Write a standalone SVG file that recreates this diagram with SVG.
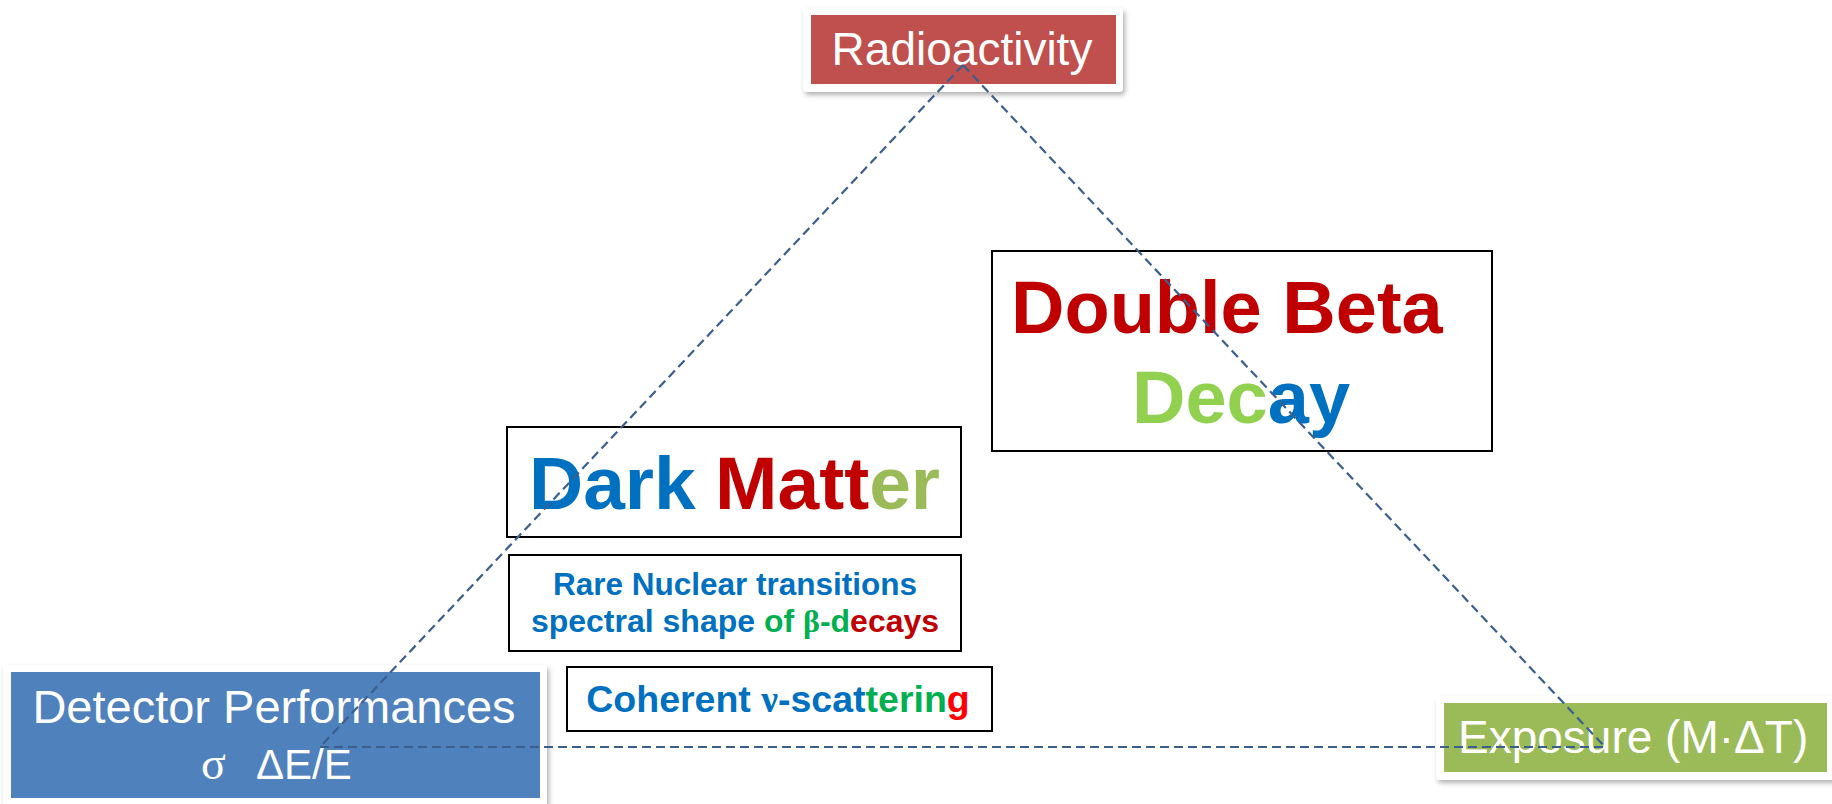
<svg xmlns="http://www.w3.org/2000/svg" width="1832" height="804" viewBox="0 0 1832 804">
  <defs>
    <filter id="shadow" x="-10%" y="-20%" width="120%" height="150%">
      <feDropShadow dx="2" dy="3" stdDeviation="2.5" flood-color="#000" flood-opacity="0.3"/>
    </filter>
  </defs>
  <style>
    .card { fill: #ffffff; filter: url(#shadow); }
    .label { font-family: "Liberation Sans", Arial, sans-serif; fill: #ffffff; }
    .frame { fill: #ffffff; stroke: #000000; stroke-width: 2; }
    .bold { font-family: "Liberation Sans", Arial, sans-serif; font-weight: bold; }
    .greek { font-family: "Liberation Serif", "Times New Roman", serif; }
    .blue { fill: #0070C0; }
    .red { fill: #C00000; }
    .olive { fill: #9BBB59; }
    .lime { fill: #92D050; }
    .green { fill: #00B050; }
    .bright { fill: #FF0000; }
    .edge { fill: none; stroke: #3A5F8F; stroke-width: 2.2; stroke-dasharray: 9 5; }
  </style>

  <!-- corner node: radioactivity -->
  <g id="radioactivity">
    <rect class="card" x="803" y="8" width="320" height="84" rx="4"/>
    <rect x="811" y="15" width="305" height="69" fill="#C0504D"/>
    <text class="label" x="962" y="65" font-size="46" text-anchor="middle">Radioactivity</text>
  </g>

  <!-- corner node: detector performances -->
  <g id="detector">
    <rect class="card" x="3" y="665" width="544" height="150" rx="4"/>
    <rect x="11" y="672" width="529" height="126" fill="#4F81BD"/>
    <text class="label" x="274" y="723" font-size="47" text-anchor="middle">Detector Performances</text>
    <text class="label" y="779" font-size="42"><tspan class="greek" x="201" font-size="46">σ</tspan><tspan x="256">ΔE/E</tspan></text>
  </g>

  <!-- corner node: exposure -->
  <g id="exposure">
    <rect class="card" x="1436" y="696" width="410" height="84" rx="4"/>
    <rect x="1444" y="703" width="383" height="69" fill="#9BBB59"/>
    <text class="label" x="1458" y="753" font-size="46">Exposure (M·ΔT)</text>
  </g>

  <!-- topic: double beta decay -->
  <g id="double-beta">
    <rect class="frame" x="992" y="251" width="500" height="200"/>
    <text class="bold red" x="1011" y="333" font-size="74">Double Beta</text>
    <text class="bold" x="1132" y="423" font-size="74"><tspan class="lime">Dec</tspan><tspan class="blue">ay</tspan></text>
  </g>

  <!-- topic: dark matter -->
  <g id="dark-matter">
    <rect class="frame" x="507" y="427" width="454" height="110"/>
    <text class="bold" y="509" font-size="75"><tspan class="blue" x="529">Dark</tspan><tspan class="red" x="715">Matt</tspan><tspan class="olive">er</tspan></text>
  </g>

  <!-- topic: rare nuclear transitions -->
  <g id="rare-nuclear">
    <rect class="frame" x="509" y="555" width="452" height="96"/>
    <text class="bold blue" x="735" y="595" font-size="31.5" text-anchor="middle">Rare Nuclear transitions</text>
    <text class="bold" x="735" y="632" font-size="32" text-anchor="middle"><tspan class="blue">spectral shape </tspan><tspan class="green">of <tspan class="greek">β</tspan>-d</tspan><tspan class="red">ecays</tspan></text>
  </g>

  <!-- topic: coherent neutrino scattering -->
  <g id="coherent">
    <rect class="frame" x="567" y="667" width="425" height="64"/>
    <text class="bold" x="778" y="712" font-size="37.5" text-anchor="middle"><tspan class="blue">Coherent <tspan class="greek">ν</tspan>-scat</tspan><tspan class="green">terin</tspan><tspan class="bright">g</tspan></text>
  </g>

  <!-- dashed triangle joining the three corners -->
  <g id="connectors">
    <line class="edge" x1="963" y1="65" x2="320" y2="747"/>
    <line class="edge" x1="963" y1="65" x2="1605" y2="747"/>
    <line class="edge" x1="320" y1="747" x2="1605" y2="747"/>
  </g>
</svg>
